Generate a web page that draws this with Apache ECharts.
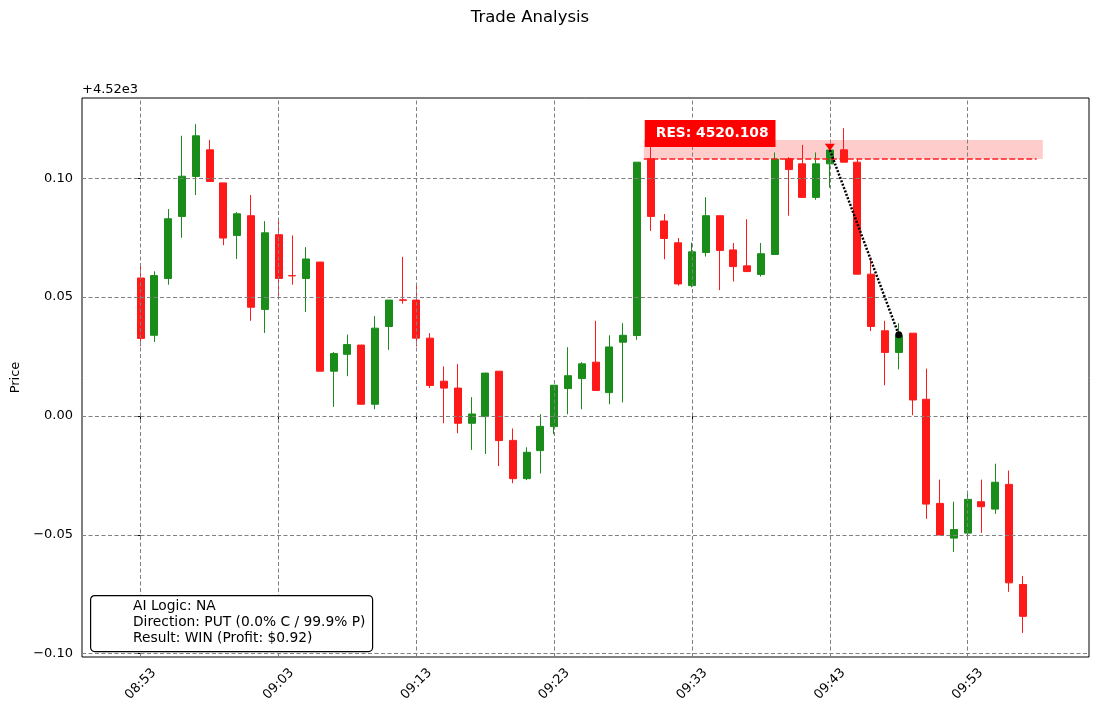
<!DOCTYPE html>
<html>
<head>
<meta charset="utf-8">
<script src="https://cdn.jsdelivr.net/npm/echarts@6/dist/echarts.min.js"></script>
<style>
  html, body { margin: 0; padding: 0; background: #fff; }
  #chart { width: 1099px; height: 716px; }
</style>
</head>
<body>
<div id="chart"></div>
<script>
// prices are stored as offsets from BASE (axis shows "+4.52e3")
var BASE = 4520;

var times = [
  '08:53','08:54','08:55','08:56','08:57','08:58','08:59','09:00','09:01','09:02',
  '09:03','09:04','09:05','09:06','09:07','09:08','09:09','09:10','09:11','09:12',
  '09:13','09:14','09:15','09:16','09:17','09:18','09:19','09:20','09:21','09:22',
  '09:23','09:24','09:25','09:26','09:27','09:28','09:29','09:30','09:31','09:32',
  '09:33','09:34','09:35','09:36','09:37','09:38','09:39','09:40','09:41','09:42',
  '09:43','09:44','09:45','09:46','09:47','09:48','09:49','09:50','09:51','09:52',
  '09:53','09:54','09:55','09:56','09:57'
];

var opens = [
  0.0580, 0.0339, 0.0578, 0.0839, 0.1007, 0.1119, 0.0980, 0.0759, 0.0842, 0.0448,
  0.0762, 0.0590, 0.0578, 0.0647, 0.0188, 0.0259, 0.0298, 0.0049, 0.0376, 0.0488,
  0.0487, 0.0327, 0.0146, 0.0117, -0.0031, -0.0003, 0.0188, -0.0103, -0.0264, -0.0146,
  -0.0045, 0.0115, 0.0157, 0.0226, 0.0098, 0.0310, 0.0338, 0.1081, 0.0820, 0.0728,
  0.0548, 0.0687, 0.0842, 0.0698, 0.0631, 0.0595, 0.0679, 0.1081, 0.1060, 0.0919,
  0.1060, 0.1119, 0.1067, 0.0596, 0.0358, 0.0267, 0.0348, 0.0070, -0.0368, -0.0514,
  -0.0493, -0.0361, -0.0392, -0.0288, -0.0709
];
var closes = [
  0.0326, 0.0590, 0.0829, 0.1008, 0.1178, 0.0986, 0.0748, 0.0850, 0.0457, 0.0770,
  0.0578, 0.0589, 0.0660, 0.0188, 0.0262, 0.0300, 0.0049, 0.0369, 0.0487, 0.0486,
  0.0327, 0.0128, 0.0117, -0.0031, 0.0008, 0.0180, -0.0104, -0.0264, -0.0153, -0.0044,
  0.0129, 0.0169, 0.0219, 0.0107, 0.0290, 0.0339, 0.1067, 0.0839, 0.0746, 0.0555,
  0.0690, 0.0842, 0.0696, 0.0628, 0.0607, 0.0682, 0.1080, 0.1036, 0.0919, 0.1060,
  0.1118, 0.1067, 0.0596, 0.0376, 0.0267, 0.0339, 0.0067, -0.0371, -0.0501, -0.0478,
  -0.0351, -0.0382, -0.0279, -0.0702, -0.0843
];
var lows = [
  0.0293, 0.0311, 0.0552, 0.0749, 0.0929, 0.0986, 0.0718, 0.0660, 0.0400, 0.0349,
  0.0500, 0.0552, 0.0437, 0.0188, 0.0038, 0.0167, 0.0049, 0.0028, 0.0278, 0.0472,
  0.0292, 0.0117, -0.0031, -0.0073, -0.0143, -0.0160, -0.0211, -0.0283, -0.0270, -0.0242,
  -0.0077, 0.0007, 0.0028, 0.0107, 0.0049, 0.0057, 0.0320, 0.0778, 0.0659, 0.0548,
  0.0541, 0.0670, 0.0529, 0.0565, 0.0607, 0.0586, 0.0679, 0.0842, 0.0919, 0.0909,
  0.0960, 0.1067, 0.0596, 0.0357, 0.0129, 0.0196, 0.0003, -0.0433, -0.0501, -0.0572,
  -0.0520, -0.0492, -0.0412, -0.0740, -0.0913
];
var highs = [
  0.0636, 0.0608, 0.0870, 0.1178, 0.1227, 0.1161, 0.0980, 0.0857, 0.0929, 0.0819,
  0.0829, 0.0759, 0.0710, 0.0647, 0.0269, 0.0342, 0.0298, 0.0420, 0.0487, 0.0669,
  0.0552, 0.0348, 0.0208, 0.0218, 0.0079, 0.0180, 0.0188, -0.0053, -0.0132, 0.0007,
  0.0129, 0.0289, 0.0226, 0.0400, 0.0339, 0.0390, 0.1067, 0.1133, 0.0849, 0.0748,
  0.0729, 0.0920, 0.0842, 0.0727, 0.0827, 0.0727, 0.1108, 0.1088, 0.1140, 0.1108,
  0.1125, 0.1210, 0.1081, 0.0666, 0.0400, 0.0390, 0.0348, 0.0199, -0.0268, -0.0361,
  -0.0320, -0.0268, -0.0201, -0.0230, -0.0673
];

var tickTimes = ['08:53', '09:03', '09:13', '09:23', '09:33', '09:43', '09:53'];
var yTicks = [-0.10, -0.05, 0.00, 0.05, 0.10];

// resistance level and trade
var resLevel = 0.108;
var resZoneTop = 0.116;
var resFrom = '09:30';
var resTo = '09:58';
var tradeEntry = { time: '09:43', price: 0.1118 };
var tradeExit = { time: '09:48', price: 0.0341 };

var infoLines = [
  'AI Logic: NA',
  'Direction: PUT (0.0% C / 99.9% P)',
  'Result: WIN (Profit: $0.92)'
];

var toMin0 = 8 * 60 + 53;
function toMin(t) {
  var p = t.split(':');
  return (+p[0]) * 60 + (+p[1]) - toMin0;
}

var candleData = times.map(function (t, i) {
  return [toMin(t), opens[i], closes[i], lows[i], highs[i]];
});
var tickPos = tickTimes.map(toMin);

var GREEN = '#1a8c1a';
var RED = '#ff1a1a';
var FONT = 'DejaVu Sans';

var myChart = echarts.init(document.getElementById('chart'));

var option = {
  animation: false,
  backgroundColor: '#fff',
  grid: {
    left: 82, right: 10, top: 98, bottom: 59,
    show: true, borderColor: '#000', borderWidth: 1
  },
  xAxis: {
    type: 'value',
    min: -4.26,
    max: 68.8,
    axisLine: { show: false },
    axisTick: { show: true, length: 4, customValues: tickPos, lineStyle: { color: '#000' } },
    axisLabel: {
      customValues: tickPos,
      rotate: 45,
      align: 'center',
      verticalAlign: 'middle',
      margin: 27,
      fontFamily: FONT,
      fontSize: 13,
      color: '#000',
      formatter: function (v) {
        var i = tickPos.indexOf(Math.round(v));
        return i >= 0 ? tickTimes[i] : '';
      }
    },
    splitLine: { show: false }
  },
  yAxis: {
    type: 'value',
    min: -0.1014,
    max: 0.1337,
    name: 'Price',
    nameLocation: 'middle',
    nameGap: 60,
    nameTextStyle: { fontFamily: FONT, fontSize: 13, color: '#000' },
    axisLine: { show: false },
    axisTick: { show: true, length: 4, customValues: yTicks, lineStyle: { color: '#000' } },
    axisLabel: {
      customValues: yTicks,
      margin: 9,
      fontFamily: FONT,
      fontSize: 13,
      color: '#000',
      formatter: function (v) {
        var s = Math.abs(v).toFixed(2);
        return v < -1e-9 ? '\u2212' + s : s;
      }
    },
    splitLine: { show: false }
  },
  graphic: [
    {
      type: 'text', x: 530, y: 18,
      style: {
        text: 'Trade Analysis', fontFamily: FONT, fontSize: 16.5, fill: '#000',
        align: 'center', verticalAlign: 'middle'
      }
    },
    {
      type: 'text', left: 82, top: 83,
      style: { text: '+4.52e3', fontFamily: FONT, fontSize: 13, fill: '#000' }
    },
    {
      type: 'rect', left: 90, top: 595, z: 100,
      shape: { width: 282, height: 56, r: 4 },
      style: { fill: '#fff', stroke: '#000', lineWidth: 1.2 }
    },
    {
      type: 'text', left: 133, top: 598, z: 101,
      style: {
        text: infoLines.join('\n'),
        fontFamily: FONT, fontSize: 13.8, lineHeight: 16, fill: '#000'
      }
    }
  ],
  series: [
    {
      // grid lines at tick positions
      type: 'line',
      data: [],
      silent: true,
      z: 1,
      markLine: {
        silent: true,
        symbol: 'none',
        label: { show: false },
        lineStyle: { color: '#808080', width: 1, type: [4, 2.5] },
        data: tickPos.map(function (p) { return { xAxis: p }; })
          .concat(yTicks.map(function (v) { return { yAxis: v }; }))
      }
    },
    {
      type: 'candlestick',
      data: candleData,
      encode: { x: 0, y: [1, 2, 3, 4] },
      barWidth: 7.5,
      z: 2,
      itemStyle: {
        color: GREEN,
        color0: RED,
        borderColor: GREEN,
        borderColor0: RED,
        borderWidth: 1
      }
    },
    {
      // resistance zone and line
      type: 'line',
      data: [],
      z: 3,
      markArea: {
        silent: true,
        itemStyle: { color: 'rgba(255,0,0,0.2)' },
        data: [[
          { coord: [toMin(resFrom) - 0.5, resLevel] },
          { coord: [toMin(resTo) + 0.45, resZoneTop] }
        ]]
      },
      markLine: {
        silent: true,
        symbol: 'none',
        label: { show: false },
        lineStyle: { color: RED, width: 1.6, type: [6, 2.5] },
        data: [[
          { coord: [toMin(resFrom) - 0.5, resLevel] },
          { coord: [toMin(resTo), resLevel] }
        ]]
      }
    },
    {
      type: 'scatter',
      z: 7,
      data: [[toMin(tradeEntry.time), tradeEntry.price + 0.0012]],
      symbol: 'triangle',
      symbolRotate: 180,
      symbolSize: [10, 7],
      itemStyle: { color: '#ff0000', opacity: 1 }
    },
    {
      // trade path
      type: 'line',
      data: [[toMin(tradeEntry.time), tradeEntry.price], [toMin(tradeExit.time), tradeExit.price]],
      symbol: 'none',
      z: 8,
      lineStyle: { color: '#000', width: 2.5, type: [2, 1.6] }
    },
    {
      type: 'scatter',
      z: 9,
      data: [[toMin(tradeExit.time), tradeExit.price]],
      symbol: 'circle',
      symbolSize: 7,
      itemStyle: { color: '#000', opacity: 1 }
    },
    {
      // resistance label
      type: 'scatter',
      z: 10,
      data: [[toMin(resFrom) - 0.43, 0.1188]],
      symbolSize: 0,
      itemStyle: { opacity: 1 },
      label: {
        show: true,
        position: 'right',
        distance: 0,
        formatter: 'RES: ' + (BASE + resLevel).toFixed(3),
        backgroundColor: '#ff0000',
        color: '#fff',
        fontFamily: FONT,
        fontSize: 13.8,
        fontWeight: 'bold',
        padding: [7, 7, 6, 11]
      }
    }
  ]
};

myChart.setOption(option);
</script>
</body>
</html>
